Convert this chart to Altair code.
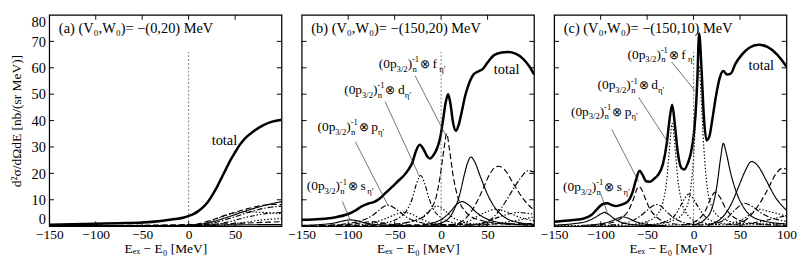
import altair as alt
import pandas as pd

FONT = "Liberation Serif"
X_DOMAIN = [-150, 100]
Y_DOMAIN = [0, 80]
Y_TICK_VALUES = [0, 10, 20, 30, 40, 50, 60, 70, 80]
X_TICK_VALUES = [-150, -100, -50, 0, 50, 100]
ZERO_LINE_TOP = 66

# ---------------- panel (a) ----------------
A_TOTAL_X = [-150, -125, -100, -75, -50, -30, -15, -5, 0, 5, 10, 15, 20, 25, 30, 35, 40, 45, 50, 55, 60, 70, 80, 90, 100]
A_TOTAL_Y = [0.5, 0.7, 0.9, 1.1, 1.4, 2.0, 2.7, 3.3, 3.9, 4.6, 5.6, 7.0, 8.9, 11.5, 14.5, 18, 21.5, 25, 28, 30.8, 33, 36, 38.2, 39.6, 40.3]
A1_X = [-150, -50, 0, 20, 40, 60, 80, 100]
A1_Y = [0.0, 0.05, 0.3, 1.2, 3.2, 5.6, 7.7, 9.3]
A2_X = [-150, 0, 20, 40, 60, 75, 90, 100]
A2_Y = [0.0, 0.3, 1.8, 4.2, 6.3, 7.6, 8.2, 8.2]
A3_X = [-150, 10, 30, 50, 70, 85, 100]
A3_Y = [0.0, 0.3, 1.5, 3.6, 5.8, 7.0, 7.6]
A4_X = [-150, 10, 30, 45, 60, 75, 100]
A4_Y = [0.0, 0.5, 2.8, 4.6, 5.4, 5.3, 4.7]
A5_X = [-150, 20, 40, 60, 80, 100]
A5_Y = [0.0, 0.3, 1.4, 3.2, 4.6, 5.2]
A6_X = [-150, 30, 55, 80, 100]
A6_Y = [0.0, 0.2, 1.2, 2.4, 2.9]
A7_X = [-150, 0, 40, 70, 100]
A7_Y = [0.1, 0.6, 0.9, 1.3, 1.7]
A8_X = [-150, -50, 0, 50, 100]
A8_Y = [0.15, 0.2, 0.3, 0.5, 0.6]

# ---------------- panel (b) ----------------
B_TOTAL_X = [-150, -130, -115, -100, -92, -85, -78, -72, -66, -60, -53, -46, -40, -35, -31, -27, -23, -19, -15, -12, -8, -4, -1, 2, 5, 7.5, 10, 13, 16, 19, 22, 26, 30, 35, 40, 45, 50, 57, 65, 72, 80, 88, 95, 100]
B_TOTAL_Y = [2.4, 2.7, 3.3, 4.6, 6.0, 7.6, 8.6, 9.2, 10.5, 12.5, 14.8, 17.2, 19.2, 21.5, 24, 28.5, 30.8, 29.2, 26.5, 25.6, 27, 29.8, 33.5, 40, 47, 50, 46.5, 39, 36.1, 38.5, 43, 49.5, 54, 57.5, 58.6, 59.6, 62, 64.8, 65.8, 66, 65.4, 63.5, 60.5, 57.5]
B1_X = [-150, -130, -115, -105, -98, -90, -80, -65, -40, 0]
B1_Y = [0.3, 0.6, 1.2, 2.0, 2.4, 2.0, 1.1, 0.5, 0.2, 0.1]
B2_X = [-130, -100, -85, -75, -65, -50, -20]
B2_Y = [0.2, 0.6, 1.3, 1.7, 1.3, 0.6, 0.2]
B3_X = [-120, -100, -85, -75, -67, -62, -57.5, -52, -45, -35, -20, 0, 30]
B3_Y = [0.4, 1.0, 2.2, 3.8, 6.0, 7.4, 8.0, 7.3, 5.5, 3.0, 1.2, 0.4, 0.1]
B4_X = [-100, -75, -60, -50, -40, -32, -22, -10, 10]
B4_Y = [0.3, 1.2, 2.8, 4.3, 5.3, 4.6, 2.8, 1.2, 0.4]
B5_X = [-80, -60, -45, -37, -31, -27, -22, -18, -13, -8, 0, 15, 40]
B5_Y = [0.5, 1.3, 3.2, 6.0, 10.5, 15.5, 19.2, 16.5, 10.5, 6.3, 3.2, 1.2, 0.4]
B6_X = [-60, -35, -20, -12, -4.5, 3, 12, 25, 50]
B6_Y = [0.4, 1.5, 3.5, 6.0, 7.6, 6.2, 3.5, 1.5, 0.4]
B7_X = [-50, -25, -12, -5, -1, 3, 6, 9, 13, 18, 25, 40, 70, 100]
B7_Y = [0.8, 2.5, 6.0, 11.5, 19, 29, 35, 29, 19, 11, 6, 2.5, 0.8, 0.4]
B8_X = [-20, 0, 10, 17, 22.8, 29, 38, 55, 80, 100]
B8_Y = [0.5, 2.5, 5.5, 8.3, 9.3, 8.2, 5.2, 2.0, 0.7, 0.4]
B9_X = [-10, 5, 13, 20, 25, 29, 32, 36, 42, 50, 58, 70, 85, 100]
B9_Y = [0.4, 2.0, 5.5, 12, 19.5, 24.5, 26.2, 24.5, 19, 12, 7, 3, 1.3, 0.7]
B10_X = [10, 25, 35, 45, 52, 58, 62, 68, 78, 88, 100]
B10_Y = [0.3, 2.5, 7, 14, 19.5, 22.3, 22.7, 21.5, 16, 10.5, 6]
B11_X = [40, 55, 65, 75, 85, 94, 100]
B11_Y = [0.5, 3, 7, 12.5, 18, 21, 20.5]
B12_X = [10, 30, 45, 58, 70, 85, 100]
B12_Y = [0.3, 2.0, 4.8, 6.4, 5.5, 3.3, 2.0]
B13_X = [30, 50, 65, 75, 84, 92, 100]
B13_Y = [0.3, 1.8, 3.8, 4.8, 5.2, 4.9, 4.5]
B14_X = [40, 70, 100]
B14_Y = [0.2, 1.5, 3.5]
B15_X = [-150, -50, 0, 50, 100]
B15_Y = [0.2, 0.4, 0.6, 0.8, 1.0]

# ---------------- panel (c) ----------------
C_TOTAL_X = [-150, -130, -118, -110, -104, -98, -93, -88, -84, -78, -71, -66, -62, -58, -55, -51, -47, -43, -38, -33, -29, -26, -23, -20, -17, -13, -10, -6, -3, 0, 2, 4, 6, 8.5, 11, 14, 17, 20, 24, 28, 32, 36, 40, 45, 52, 60, 70, 80, 90, 100]
C_TOTAL_Y = [1.7, 2.3, 2.9, 4.2, 6.4, 8.3, 8.7, 8.0, 7.6, 8.1, 9.3, 12.5, 17.5, 21, 19.5, 17, 16.8, 17.8, 19.5, 23.5, 31, 40, 46, 38, 28, 22, 21.5, 24, 27.5, 34, 42, 55, 73, 60, 42, 32.5, 34, 40, 49, 56, 58.8, 57.5, 57.8, 61.5, 65, 67.6, 68.7, 67.8, 65, 60.5]
C1_X = [-150, -130, -115, -105, -100, -96, -92, -86, -78, -65, -40]
C1_Y = [0.4, 0.9, 1.8, 3.5, 4.6, 5.2, 4.6, 3.0, 1.5, 0.6, 0.2]
C2_X = [-120, -100, -88, -80, -76, -71, -63, -50, -30]
C2_Y = [0.3, 0.9, 2.0, 3.2, 3.5, 3.1, 1.8, 0.7, 0.2]
C3_X = [-110, -90, -78, -70, -65, -61, -59, -56, -52, -47, -40, -30, -10]
C3_Y = [0.4, 1.2, 3.0, 6.0, 10, 14, 15, 14, 10.5, 6.5, 3.5, 1.6, 0.5]
C4_X = [-90, -70, -58, -50, -43, -40, -36, -30, -22, -10, 10]
C4_Y = [0.4, 1.5, 3.7, 6.0, 7.8, 8.2, 7.8, 5.8, 3.3, 1.3, 0.4]
C5_X = [-70, -50, -40, -33, -29, -26, -23, -20, -17, -13, -7, 5, 30]
C5_Y = [0.5, 1.8, 4.0, 9.0, 17, 29, 39, 30, 18, 9.5, 4.5, 1.6, 0.5]
C6_X = [-50, -30, -20, -13, -8, -5.4, -2, 4, 12, 25, 50]
C6_Y = [0.4, 1.8, 4.2, 8.3, 11.3, 12.2, 11.2, 7.8, 3.8, 1.4, 0.4]
C7_X = [-40, -20, -10, -4, 0, 3, 5.8, 8, 11, 15, 20, 30, 50, 100]
C7_Y = [0.8, 2.5, 5.5, 12, 26, 46, 61, 50, 30, 14, 7, 3, 1.2, 0.4]
C8_X = [-10, 5, 13, 19, 23.5, 28, 35, 45, 65, 100]
C8_Y = [0.5, 2.5, 6.0, 11, 12.9, 11.2, 6.5, 3.0, 1.0, 0.3]
C9_X = [0, 12, 20, 25, 29, 32, 35, 40, 47, 55, 70, 100]
C9_Y = [0.5, 2.5, 7, 15, 25.5, 31.4, 28, 20, 12, 6.5, 2.5, 0.8]
C10_X = [15, 30, 40, 48, 55, 62.4, 70, 78, 88, 100]
C10_Y = [0.5, 3, 8, 14.5, 20.5, 24.5, 22.5, 17.5, 11, 6]
C11_X = [45, 60, 70, 80, 88, 96, 100]
C11_Y = [0.5, 3.5, 8, 14, 19.5, 22, 21.5]
C12_X = [15, 35, 45, 55, 63, 75, 90, 100]
C12_Y = [0.3, 2.8, 6.3, 8.7, 7.5, 4.5, 2.5, 1.8]
C13_X = [35, 55, 70, 82, 100]
C13_Y = [0.5, 3.0, 6.4, 5.5, 3.8]
C14_X = [50, 75, 100]
C14_Y = [0.3, 2.0, 4.0]
C15_X = [-150, -50, 0, 50, 100]
C15_Y = [0.2, 0.4, 0.6, 0.8, 1.0]

# ---------------- annotations ----------------
LETTERS = ["s", "p", "d", "f"]
B_LABEL_X = [-144.6, -133, -104.3, -67]
B_LABEL_Y = [13.6, 36.1, 50.1, 60]
B_LEAD_X1 = [-106.3, -92.4, -60.3, -28]
B_LEAD_Y1 = [9.4, 32, 47.2, 57]
B_LEAD_X2 = [-98, -56.8, -23, 5.2]
B_LEAD_Y2 = [2.4, 7.6, 18.6, 34.3]
C_LABEL_X = [-140.5, -132, -103.3, -71]
C_LABEL_Y = [13.4, 41.9, 51.8, 63.5]
C_LEAD_X1 = [-99.9, -88, -59.2, -23.7]
C_LEAD_Y1 = [12.2, 36.7, 48.9, 62.3]
C_LEAD_X2 = [-92, -59.2, -27, 1.7]
C_LEAD_Y2 = [4.3, 16.9, 31.4, 51.2]
TOTAL_LABEL_X = [38.5, 70.5, 72.9]
TOTAL_LABEL_Y = [32.6, 59.4, 61.1]
PANEL_TITLES = ["(a) (V\u2080,W\u2080)= \u2212(0,20) MeV",
                "(b) (V\u2080,W\u2080)= \u2212(150,20) MeV",
                "(c) (V\u2080,W\u2080)= \u2212(150,10) MeV"]
X_TITLE = "E\u2091\u2093 \u2212 E\u2080 [MeV]"
Y_TITLE = "d\u00b2\u03c3/d\u03a9dE  [nb/(sr MeV)]"

# ---------------- styles ----------------
SOLID = [1, 0]
DASH = [6, 3]
DOT = [1.5, 2]
DASHDOT = [6, 2, 1.5, 2]
DASHDOTDOT = [5, 2, 1.5, 2, 1.5, 2]
A_STYLES = {"A1": SOLID, "A2": DASH, "A3": DASHDOT, "A4": DOT, "A5": DASHDOTDOT, "A6": DOT, "A7": DASH, "A8": SOLID}
B_STYLES = {"B1": SOLID, "B2": SOLID, "B3": SOLID, "B4": DASH, "B5": DASH, "B6": DASHDOT, "B7": DOT,
            "B8": DASHDOTDOT, "B9": DASHDOT, "B10": SOLID, "B11": SOLID, "B12": DASH, "B13": DOT,
            "B14": DASHDOTDOT, "B15": DOT}
C_STYLES = {"C1": SOLID, "C2": SOLID, "C3": DASH, "C4": SOLID, "C5": DASH, "C6": DASHDOT, "C7": DOT,
            "C8": DASHDOTDOT, "C9": DASHDOT, "C10": SOLID, "C11": SOLID, "C12": DASH, "C13": DOT,
            "C14": DASHDOTDOT, "C15": DOT}

A_COMPS = [("A1", A1_X, A1_Y), ("A2", A2_X, A2_Y), ("A3", A3_X, A3_Y), ("A4", A4_X, A4_Y),
           ("A5", A5_X, A5_Y), ("A6", A6_X, A6_Y), ("A7", A7_X, A7_Y), ("A8", A8_X, A8_Y)]
B_COMPS = [("B1", B1_X, B1_Y), ("B2", B2_X, B2_Y), ("B3", B3_X, B3_Y), ("B4", B4_X, B4_Y),
           ("B5", B5_X, B5_Y), ("B6", B6_X, B6_Y), ("B7", B7_X, B7_Y), ("B8", B8_X, B8_Y),
           ("B9", B9_X, B9_Y), ("B10", B10_X, B10_Y), ("B11", B11_X, B11_Y), ("B12", B12_X, B12_Y),
           ("B13", B13_X, B13_Y), ("B14", B14_X, B14_Y), ("B15", B15_X, B15_Y)]
C_COMPS = [("C1", C1_X, C1_Y), ("C2", C2_X, C2_Y), ("C3", C3_X, C3_Y), ("C4", C4_X, C4_Y),
           ("C5", C5_X, C5_Y), ("C6", C6_X, C6_Y), ("C7", C7_X, C7_Y), ("C8", C8_X, C8_Y),
           ("C9", C9_X, C9_Y), ("C10", C10_X, C10_Y), ("C11", C11_X, C11_Y), ("C12", C12_X, C12_Y),
           ("C13", C13_X, C13_Y), ("C14", C14_X, C14_Y), ("C15", C15_X, C15_Y)]

W = 242
H = 220
TICK = 5


def make_panel(idx, total_x, total_y, comps, styles, show_y, x_labels, labels=None):
    x_axis = alt.Axis(values=x_labels, labelFont=FONT, labelFontSize=14, labelColor="black",
                      ticks=False, domain=False, grid=False, labelPadding=2, labelFlush=False,
                      title=X_TITLE, titleFont=FONT, titleFontSize=14, titleFontWeight="normal",
                      titleColor="black", titlePadding=0)
    if show_y:
        y_axis = alt.Axis(values=Y_TICK_VALUES, labelFont=FONT, labelFontSize=15, labelColor="black",
                          ticks=False, domain=False, grid=False, labelPadding=4,
                          labelFlush=True, labelFlushOffset=0,
                          title=Y_TITLE, titleFont=FONT, titleFontSize=14, titleFontWeight="normal",
                          titleColor="black", titlePadding=8)
    else:
        y_axis = None
    xs = alt.Scale(domain=X_DOMAIN, nice=False, zero=False)
    ysc = alt.Scale(domain=Y_DOMAIN, nice=False, zero=False)

    def X(field="x"):
        return alt.X(f"{field}:Q", scale=xs, axis=x_axis)

    def Y(field="y"):
        return alt.Y(f"{field}:Q", scale=ysc, axis=y_axis)

    comp_df = pd.concat([pd.DataFrame({"curve": n, "x": cx, "y": cy}) for n, cx, cy in comps])
    names = [n for n, _, _ in comps]
    comp_layer = alt.Chart(comp_df).mark_line(color="black", strokeWidth=1.2, interpolate="monotone",
                                              clip=True).encode(
        x=X(), y=Y(), detail="curve:N",
        strokeDash=alt.StrokeDash("curve:N", scale=alt.Scale(domain=names, range=[styles[n] for n in names]),
                                  legend=None))
    total_df = pd.DataFrame({"x": total_x, "y": total_y})
    total_layer = alt.Chart(total_df).mark_line(color="black", strokeWidth=2.6, interpolate="monotone",
                                                clip=True).encode(x=X(), y=Y())

    zero_df = pd.DataFrame({"x": [0], "y": [0], "y2": [ZERO_LINE_TOP]})
    zero_layer = alt.Chart(zero_df).mark_rule(color="#555", strokeWidth=0.8, strokeDash=[2, 2]).encode(
        x=X(), y=Y(), y2="y2:Q")

    ytick_df = pd.DataFrame({"y": Y_TICK_VALUES[1:-1]})
    xtick_df = pd.DataFrame({"x": X_TICK_VALUES[1:-1]})
    ticks = [
        alt.Chart(ytick_df).mark_rule(color="black", strokeWidth=1).encode(
            x=alt.value(0), x2=alt.value(TICK), y=Y()),
        alt.Chart(ytick_df).mark_rule(color="black", strokeWidth=1).encode(
            x=alt.value(W - TICK), x2=alt.value(W), y=Y()),
        alt.Chart(xtick_df).mark_rule(color="black", strokeWidth=1).encode(
            y=alt.value(H - TICK), y2=alt.value(H), x=X()),
        alt.Chart(xtick_df).mark_rule(color="black", strokeWidth=1).encode(
            y=alt.value(0), y2=alt.value(TICK), x=X()),
    ]

    title_layer = alt.Chart(pd.DataFrame({"t": [PANEL_TITLES[idx]]})).mark_text(
        align="left", baseline="alphabetic", font=FONT, fontSize=15, color="black", x=10, y=19).encode(
        text="t:N")
    tot_df = pd.DataFrame({"x": [TOTAL_LABEL_X[idx]], "y": [TOTAL_LABEL_Y[idx]], "t": ["total"]})
    tot_layer = alt.Chart(tot_df).mark_text(align="center", baseline="middle", font=FONT, fontSize=15,
                                            color="black").encode(x=X(), y=Y(), text="t:N")

    layers = [comp_layer, total_layer, zero_layer] + ticks + [title_layer, tot_layer]

    if labels is not None:
        lx, ly, x1, y1, x2, y2 = labels
        lab_df = pd.DataFrame({"x": lx, "y": ly, "letter": LETTERS})
        lead_df = pd.DataFrame({"x": x1, "y": y1, "x2": x2, "y2": y2})
        layers.append(alt.Chart(lead_df).mark_rule(color="#333", strokeWidth=0.7).encode(
            x=X(), y=Y(), x2="x2:Q", y2="y2:Q"))
        segs = [("(0p", 0, 0, 14), ("3/2", 18.5, 4, 9), (")", 30, 0, 14), ("-1", 34.5, -6, 9),
                ("n", 35, 4, 9), ("\u2297", 43, 0, 13), ("\u03b7\u2032", 63, 4, 9)]
        for txt, dx, dy, fs in segs:
            layers.append(alt.Chart(lab_df).mark_text(text=txt, align="left", baseline="alphabetic",
                                                      font=FONT, fontSize=fs, dx=dx, dy=dy,
                                                      color="black").encode(x=X(), y=Y()))
        layers.append(alt.Chart(lab_df).mark_text(align="left", baseline="alphabetic", font=FONT,
                                                  fontSize=14, dx=56, color="black").encode(
            x=X(), y=Y(), text="letter:N"))

    return alt.layer(*layers).properties(width=W, height=H)


pa = make_panel(0, A_TOTAL_X, A_TOTAL_Y, A_COMPS, A_STYLES, True, X_TICK_VALUES[:-1])
pb = make_panel(1, B_TOTAL_X, B_TOTAL_Y, B_COMPS, B_STYLES, False, X_TICK_VALUES[:-1],
                (B_LABEL_X, B_LABEL_Y, B_LEAD_X1, B_LEAD_Y1, B_LEAD_X2, B_LEAD_Y2))
pc = make_panel(2, C_TOTAL_X, C_TOTAL_Y, C_COMPS, C_STYLES, False, X_TICK_VALUES,
                (C_LABEL_X, C_LABEL_Y, C_LEAD_X1, C_LEAD_Y1, C_LEAD_X2, C_LEAD_Y2))

chart = alt.hconcat(pa, pb, pc, spacing=3).properties(
    padding={"left": 1, "top": 0, "right": 0, "bottom": 0}
).configure_view(stroke="black", strokeWidth=1.3).configure_concat(spacing=3)

chart.save("out.html", embed_options={"renderer": "svg", "actions": False})
